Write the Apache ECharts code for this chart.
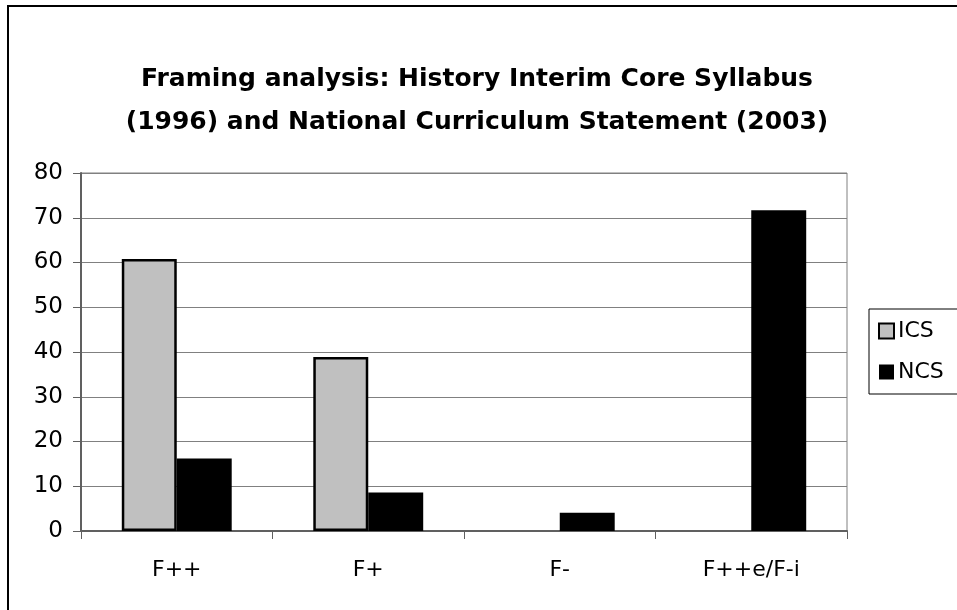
<!DOCTYPE html>
<html>
<head>
<meta charset="utf-8">
<script src="https://cdn.jsdelivr.net/npm/echarts@6/dist/echarts.min.js"></script>
<style>
	html,body{margin:0;padding:0;background:#fff;}
	#chart{width:957px;height:610px;}
</style>
</head>
<body>
<div id="chart"></div>
<script>
// 分类与数据
var categories = ['F++', 'F+', 'F-', 'F++e/F-i'];
var icsValues = [60.8, 38.9, null, null];
var ncsValues = [16.2, 8.6, 4.1, 71.7];
var yTicks = [0, 10, 20, 30, 40, 50, 60, 70, 80];

var fontName = 'DejaVu Sans';
var chart = echarts.init(document.getElementById('chart'));

var option = {
	animation: false,
	backgroundColor: '#fff',
	title: {
		text: 'Framing analysis: History Interim Core Syllabus\n(1996) and National Curriculum Statement (2003)',
		left: 472,
		top: 53,
		textAlign: 'center',
		textStyle: {
			fontFamily: fontName,
			fontWeight: 'bold',
			fontSize: 25,
			lineHeight: 43,
			color: '#000'
		}
	},
	legend: {
		orient: 'vertical',
		left: 869,
		top: 309,
		padding: [11, 14, 11, 9],
		itemWidth: 15,
		itemHeight: 15,
		itemGap: 19,
		icon: 'rect',
		borderColor: '#000',
		borderWidth: 1,
		textStyle: {fontFamily: fontName, fontSize: 22, color: '#000', padding: [0, 0, 0, -1]},
		data: [
			{name: 'ICS', itemStyle: {color: '#C0C0C0', borderColor: '#000', borderWidth: 2}},
			{name: 'NCS', itemStyle: {color: '#000', borderWidth: 0}}
		]
	},
	grid: {
		left: 81,
		right: 110,
		top: 173,
		bottom: 79,
		show: true,
		borderColor: '#808080',
		borderWidth: 1
	},
	xAxis: {
		type: 'category',
		data: categories,
		axisLine: {lineStyle: {color: '#606060', width: 2}},
		axisTick: {show: true, length: 8, lineStyle: {color: '#606060'}},
		axisLabel: {fontFamily: fontName, fontSize: 22, color: '#000', margin: 28}
	},
	yAxis: {
		type: 'value',
		min: yTicks[0],
		max: yTicks[yTicks.length - 1],
		interval: 10,
		axisLine: {show: true, lineStyle: {color: '#606060', width: 2}},
		axisTick: {show: true, length: 8, lineStyle: {color: '#606060'}},
		axisLabel: {fontFamily: fontName, fontSize: 23, color: '#000', margin: 18},
		splitLine: {lineStyle: {color: '#808080', width: 1}}
	},
	series: [{
		name: 'ICS',
		type: 'bar',
		data: icsValues,
		barGap: '0%',
		barCategoryGap: '42.6%',
		itemStyle: {color: '#C0C0C0', borderColor: '#000', borderWidth: 2.5}
	}, {
		name: 'NCS',
		type: 'bar',
		data: ncsValues,
		itemStyle: {color: '#000'}
	}],
	graphic: [{
		type: 'rect',
		shape: {x: 8, y: 6, width: 1200, height: 1200},
		style: {fill: 'none', stroke: '#000', lineWidth: 2},
		silent: true
	}]
};
chart.setOption(option);
</script>
</body>
</html>
